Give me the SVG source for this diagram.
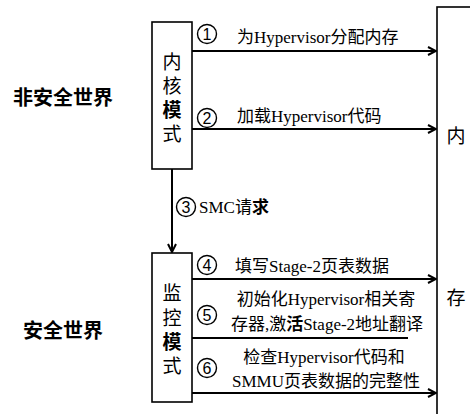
<svg xmlns="http://www.w3.org/2000/svg" width="470" height="414" viewBox="0 0 470 414">
<style>
.box{fill:#fff;stroke:#000;stroke-width:1.6}
.ln{fill:none;stroke:#000;stroke-width:2}
.t{font-family:"Liberation Serif","Noto Sans CJK SC",serif;font-size:17px;fill:#000}
.v{font-family:"Liberation Serif","Noto Sans CJK SC",serif;font-size:19px;fill:#000;text-anchor:middle}
.b{font-family:"Noto Sans CJK SC",sans-serif;font-weight:bold}
.w{font-family:"Noto Sans CJK SC",sans-serif;font-size:20px;font-weight:bold;fill:#000}
.c{fill:none;stroke:#000;stroke-width:1.4}
.n{font-family:"Liberation Sans",sans-serif;font-size:16px;fill:#000;text-anchor:middle}
</style>
<defs>
<marker id="ah" viewBox="0 0 10 10" refX="9" refY="5" markerWidth="10" markerHeight="10" markerUnits="userSpaceOnUse" orient="auto">
<polyline points="1,1 9,5 1,9" fill="none" stroke="#000" stroke-width="2"/>
</marker>
</defs>
<rect width="470" height="414" fill="#fff"/>
<text class="w" x="13" y="105">非安全世界</text>
<text class="w" x="23" y="338">安全世界</text>
<g id="memory">
<rect class="box" x="437" y="7" width="40" height="420"/>
<text class="v" x="456" y="143">内</text>
<text class="v" x="456" y="305">存</text>
</g>
<g id="kernel">
<rect class="box" x="152" y="22" width="40" height="147"/>
<text class="v" x="172" y="69">内</text>
<text class="v" x="172" y="93">核</text>
<text class="v b" x="172" y="117">模</text>
<text class="v" x="172" y="141">式</text>
</g>
<g id="monitor">
<rect class="box" x="152" y="253" width="40" height="149"/>
<text class="v" x="172" y="300">监</text>
<text class="v" x="172" y="325">控</text>
<text class="v b" x="172" y="349">模</text>
<text class="v" x="172" y="373">式</text>
</g>
<g id="connectors">
<line class="ln" x1="192" y1="51" x2="436" y2="51" marker-end="url(#ah)"/>
<line class="ln" x1="192" y1="129" x2="436" y2="129" marker-end="url(#ah)"/>
<line class="ln" x1="172" y1="169" x2="172" y2="252" marker-end="url(#ah)"/>
<line class="ln" x1="192" y1="279" x2="436" y2="279" marker-end="url(#ah)"/>
<line class="ln" x1="192" y1="338" x2="408" y2="338"/>
<line class="ln" x1="192" y1="393" x2="436" y2="393" marker-end="url(#ah)"/>
</g>
<g id="label1">
<circle class="c" cx="207" cy="34" r="9.5"/><text class="n" x="207" y="39.5">1</text>
<text class="t" x="237" y="43">为Hypervisor分配内存</text>
</g>
<g id="label2">
<circle class="c" cx="207" cy="118" r="9.5"/><text class="n" x="207" y="123.5">2</text>
<text class="t" x="237" y="122">加载Hypervisor代码</text>
</g>
<g id="label3">
<circle class="c" cx="186" cy="207" r="9.5"/><text class="n" x="186" y="212.5">3</text>
<text class="t" x="199" y="213">SMC请<tspan class="b">求</tspan></text>
</g>
<g id="label4">
<circle class="c" cx="207" cy="265" r="9.5"/><text class="n" x="207" y="270.5">4</text>
<text class="t" x="235" y="272">填写Stage-2页表数据</text>
</g>
<g id="label5">
<circle class="c" cx="207" cy="315" r="9.5"/><text class="n" x="207" y="320.5">5</text>
<text class="t" x="326" y="305" text-anchor="middle">初始化Hypervisor相关寄</text>
<text class="t" x="327" y="330" text-anchor="middle">存器,激<tspan class="b">活</tspan>Stage-2地址翻译</text>
</g>
<g id="label6">
<circle class="c" cx="207" cy="368" r="9.5"/><text class="n" x="207" y="373.5">6</text>
<text class="t" x="324" y="363" text-anchor="middle">检查Hypervisor代码和</text>
<text class="t" x="326" y="387" text-anchor="middle">SMMU页表数据的完整性</text>
</g>
</svg>
